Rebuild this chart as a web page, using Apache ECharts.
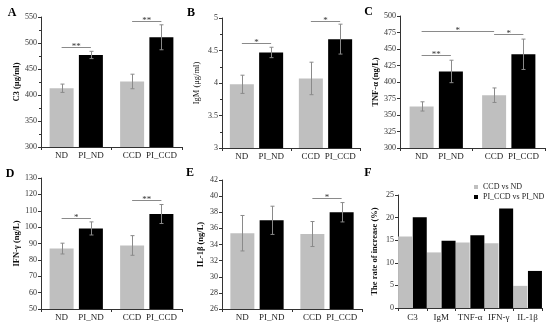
<!DOCTYPE html>
<html><head><meta charset="utf-8">
<script src="https://cdn.jsdelivr.net/npm/echarts@6/dist/echarts.min.js"></script>
<style>html,body{margin:0;padding:0;background:#fff}#c{width:550px;height:330px}</style>
</head><body><div id="c"></div>
<script>
// ---- data ----
const groupLabels = [['ND', 'PI_ND'], ['CCD', 'PI_CCD']];
const groupCats = ['ND / PI_ND', 'CCD / PI_CCD'];

const c3Mean = [413, 477, 426, 511];
const c3Err = [8, 7, 14, 24];
const c3Sig = [[0, 1, 492, '**'], [2, 3, 541.5, '**']];

const igmMean = [3.98, 4.47, 4.07, 4.675];
const igmErr = [0.14, 0.08, 0.25, 0.23];
const igmSig = [[0, 1, 4.61, '*'], [2, 3, 4.96, '*']];

const tnfMean = [363, 416, 380, 442];
const tnfErr = [7, 17, 11, 23];
const tnfSig = [[0, 2, 478, '*'], [0, 1, 441.5, '**'], [2, 3, 472, '*']];

const ifnMean = [86.9, 99.2, 88.8, 108];
const ifnErr = [3.3, 4, 6, 5.8];
const ifnSig = [[0, 1, 105.5, '*'], [2, 3, 116.3, '**']];

const il1Mean = [35.4, 37.0, 35.3, 38.0];
const il1Err = [2.2, 1.75, 1.55, 1.2];
const il1Sig = [[2, 3, 39.8, '*']];

const rateCats = ['C3', 'IgM', 'TNF-α', 'IFN-γ', 'IL-1β'];
const rateCCDvsND = [15.8, 12.3, 14.5, 14.3, 4.9];
const ratePIvsPI = [20.1, 14.9, 16.1, 22.0, 8.2];
const legendNames = ['CCD vs ND', 'PI_CCD vs PI_ND'];

// ---- styling / layout ----
const FONT = '"Liberation Serif", "Times New Roman", serif';
const GRAY = '#bfbfbf', BLACK = '#000000';
const BAR_W = 24, BAR_GAP = 0.22;
const OFF = BAR_W * (1 + BAR_GAP) / 2;

const grids = [
  {left: 41, top: 17, width: 141, height: 130},
  {left: 222, top: 18, width: 138, height: 130},
  {left: 400, top: 16, width: 145, height: 132},
  {left: 41, top: 178, width: 141, height: 131},
  {left: 222, top: 180, width: 140, height: 129},
  {left: 398, top: 195, width: 144, height: 113}
];

const panels = [
  {mean: c3Mean, err: c3Err, sig: c3Sig, min: 300, max: 550, interval: 50, name: 'C3 (μg/ml)', bold: true, gap: 18, minor: true},
  {mean: igmMean, err: igmErr, sig: igmSig, min: 3, max: 5, interval: 0.5, name: 'IgM (μg/ml)', bold: false, gap: 21, minor: true},
  {mean: tnfMean, err: tnfErr, sig: tnfSig, min: 300, max: 500, interval: 25, name: 'TNF-α (ng/L)', bold: true, gap: 19, minor: false},
  {mean: ifnMean, err: ifnErr, sig: ifnSig, min: 50, max: 130, interval: 10, name: 'IFN-γ (ng/L)', bold: true, gap: 18, minor: false},
  {mean: il1Mean, err: il1Err, sig: il1Sig, min: 26, max: 42, interval: 2, name: 'IL-1β (ng/L)', bold: true, gap: 17, minor: false}
];

const axisLine = {lineStyle: {color: '#333', width: 1}};
const xAxes = [], yAxes = [], series = [];

function yAxisCfg(i, min, max, interval, name, bold, gap, minor) {
  return {
    type: 'value', gridIndex: i, min, max, interval,
    name, nameLocation: 'middle', nameGap: gap, nameRotate: 90,
    nameTextStyle: {fontFamily: FONT, fontSize: 8.5, fontWeight: bold ? 'bold' : 'normal', color: '#111'},
    axisLine: {show: true, lineStyle: {color: '#333'}},
    axisTick: {show: true, length: 3, lineStyle: {color: '#333'}},
    minorTick: {show: minor, splitNumber: 2, length: 2, lineStyle: {color: '#333'}},
    splitLine: {show: false},
    axisLabel: {fontFamily: FONT, fontSize: 8, color: '#333', margin: 4}
  };
}

panels.forEach((p, i) => {
  xAxes.push({
    type: 'category', gridIndex: i, data: groupCats,
    axisLine: axisLine,
    axisTick: {show: true, length: 3, lineStyle: {color: '#333'}},
    axisLabel: {
      interval: 0, margin: 4,
      formatter: (v, idx) => `{a|${groupLabels[idx][0]}}{a|${groupLabels[idx][1]}}`,
      rich: {a: {width: 2 * OFF, align: 'center', fontFamily: FONT, fontSize: 9, color: '#222'}}
    }
  });
  yAxes.push(yAxisCfg(i, p.min, p.max, p.interval, p.name, p.bold, p.gap, p.minor));
  series.push({
    type: 'bar', xAxisIndex: i, yAxisIndex: i, barWidth: BAR_W, barGap: (BAR_GAP * 100) + '%',
    itemStyle: {color: GRAY}, data: [p.mean[0], p.mean[2]]
  });
  series.push({
    type: 'bar', xAxisIndex: i, yAxisIndex: i, barWidth: BAR_W, barGap: (BAR_GAP * 100) + '%',
    itemStyle: {color: BLACK}, data: [p.mean[1], p.mean[3]]
  });
  // error bars
  series.push({
    type: 'custom', xAxisIndex: i, yAxisIndex: i, z: 5,
    encode: {x: 0, y: 2},
    data: p.mean.map((m, k) => [Math.floor(k / 2), k % 2, m, p.err[k]]),
    renderItem: (params, api) => {
      const cat = api.value(0), side = api.value(1) ? 1 : -1;
      const m = api.value(2), e = api.value(3);
      const t = api.coord([cat, m + e]), b = api.coord([cat, m - e]);
      const x = Math.round(t[0] + side * OFF) + 0.5;
      const st = {stroke: '#8a8a8a', lineWidth: 1};
      return {type: 'group', children: [
        {type: 'line', shape: {x1: x, y1: t[1], x2: x, y2: b[1]}, style: st},
        {type: 'line', shape: {x1: x - 2, y1: t[1], x2: x + 2, y2: t[1]}, style: st},
        {type: 'line', shape: {x1: x - 2, y1: b[1], x2: x + 2, y2: b[1]}, style: st}
      ]};
    }
  });
  // significance brackets
  const sig = p.sig;
  series.push({
    type: 'custom', xAxisIndex: i, yAxisIndex: i, z: 6,
    encode: {x: 0, y: 1},
    data: sig.map(s => [Math.floor(s[0] / 2), s[2]]),
    renderItem: (params, api) => {
      const s = sig[params.dataIndex];
      const px = k => api.coord([Math.floor(k / 2), s[2]])[0] + (k % 2 ? 1 : -1) * OFF;
      const y = Math.round(api.coord([0, s[2]])[1]) + 0.5;
      const x1 = px(s[0]), x2 = px(s[1]);
      return {type: 'group', children: [
        {type: 'line', shape: {x1, y1: y, x2, y2: y}, style: {stroke: '#8a8a8a', lineWidth: 1}},
        {type: 'text', x: (x1 + x2) / 2, y: y - 1,
          style: {text: s[3], fill: '#333', font: '9px ' + FONT, textAlign: 'center', textVerticalAlign: 'middle'}}
      ]};
    }
  });
});

// panel F
xAxes.push({
  type: 'category', gridIndex: 5, data: rateCats,
  axisLine: axisLine,
  axisTick: {show: true, length: 3, lineStyle: {color: '#333'}},
  axisLabel: {interval: 0, margin: 5, fontFamily: FONT, fontSize: 9, color: '#222'}
});
yAxes.push(yAxisCfg(5, 0, 25, 5, 'The rate of increase (%)', true, 19, false));
series.push({
  name: legendNames[0], type: 'bar', xAxisIndex: 5, yAxisIndex: 5, barWidth: 14, barGap: '5%',
  itemStyle: {color: GRAY}, data: rateCCDvsND
});
series.push({
  name: legendNames[1], type: 'bar', xAxisIndex: 5, yAxisIndex: 5, barWidth: 14, barGap: '5%',
  itemStyle: {color: BLACK}, data: ratePIvsPI
});

const letters = [['A', 12, 13], ['B', 191, 12.5], ['C', 368.5, 11.5], ['D', 10, 174], ['E', 190, 172.5], ['F', 368, 172.5]];

const chart = echarts.init(document.getElementById('c'), null, {renderer: 'canvas'});
chart.setOption({
  animation: false,
  backgroundColor: '#fff',
  grid: grids,
  xAxis: xAxes,
  yAxis: yAxes,
  series,
  legend: {
    data: legendNames, orient: 'vertical', left: 469, top: 178,
    itemWidth: 4, itemHeight: 4, itemGap: 2, icon: 'rect',
    textStyle: {fontFamily: FONT, fontSize: 8, color: '#222'}
  },
  graphic: letters.map(l => ({
    type: 'text', x: l[1], y: l[2],
    style: {text: l[0], font: 'bold 12px ' + FONT, fill: '#000', textAlign: 'center', textVerticalAlign: 'middle'}
  }))
});
</script></body></html>
